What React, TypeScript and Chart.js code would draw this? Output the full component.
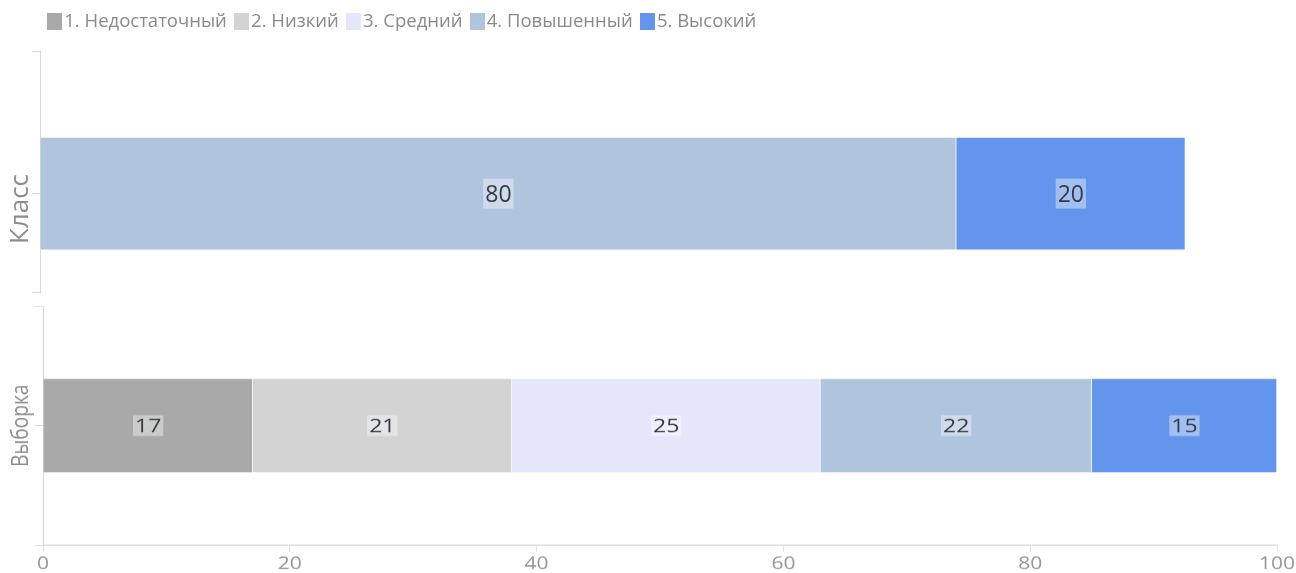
import React, { useEffect, useRef } from 'react';
import { Chart, registerables } from 'chart.js';

Chart.register(...registerables);

// ---- data ----
const categories = ['Класс', 'Выборка'];
const seriesNames = ['1. Недостаточный', '2. Низкий', '3. Средний', '4. Повышенный', '5. Высокий'];
const seriesColors = ['#A9A9A9', '#D3D3D3', '#E6E6FA', '#B0C4DE', '#6495ED'];
const classValues = [0, 0, 0, 80, 20];
const sampleValues = [17, 21, 25, 22, 15];
const xTickValues = [0, 20, 40, 60, 80, 100];

// ---- layout / style ----
const FONT = "'Open Sans', 'Noto Sans', sans-serif";
const W = 1296;
const TOP_H = 293;
const SQUASH = 0.8;
const BOTTOM_H = 356; // drawing height of lower pane (shown squashed)
const LABEL_X = 21;
const TICK_LEN = 8;

function measure(text: string, size: number) {
  const c = document.createElement('canvas').getContext('2d') as CanvasRenderingContext2D;
  c.font = `${size}px ${FONT}`;
  return c.measureText(text).width;
}

function swatch(color: string) {
  const c = document.createElement('canvas');
  c.width = 15;
  c.height = 17;
  const g = c.getContext('2d') as CanvasRenderingContext2D;
  g.fillStyle = color;
  g.fillRect(0, 0, 15, 17);
  return c;
}

function categoryAxis(label: string, size: number, min: number, max: number, axisX: number, shift: number) {
  const w = measure(label, size);
  return {
    type: 'linear',
    stacked: true,
    offset: false,
    min,
    max,
    afterBuildTicks: (s: any) => {
      s.ticks = [s.min, 0, s.max].map((value: number) => ({ value }));
    },
    afterFit: (s: any) => {
      s.width = axisX;
    },
    ticks: {
      autoSkip: false,
      callback: (v: number) => (v === 0 ? label : ''),
      minRotation: 90,
      maxRotation: 90,
      crossAlign: 'center',
      padding: axisX - TICK_LEN - LABEL_X - w / 2,
      labelOffset: shift,
      color: '#8c8c8c',
      font: { family: FONT, size, lineHeight: 0.05 },
    },
    grid: { offset: false, drawOnChartArea: false, drawTicks: true, tickLength: TICK_LEN, color: '#d8d8d8' },
    border: { display: true, color: '#d8d8d8' },
  };
}

function makeDatasets(values: number[], thickness: number) {
  return seriesNames.map((name, i) => ({
    label: name,
    data: [{ x: values[i] || null, y: 0 }],
    backgroundColor: seriesColors[i],
    borderColor: 'rgba(255,255,255,0.45)',
    borderWidth: 1,
    barThickness: thickness,
  }));
}

function valueLabels(boxH: number) {
  return {
    id: 'valueLabels',
    afterDatasetsDraw(chart: any) {
      const ctx = chart.ctx;
      ctx.save();
      ctx.font = `23px ${FONT}`;
      ctx.textAlign = 'center';
      ctx.textBaseline = 'middle';
      chart.data.datasets.forEach((ds: any, i: number) => {
        if (!chart.isDatasetVisible(i)) return;
        const meta = chart.getDatasetMeta(i);
        meta.data.forEach((el: any, j: number) => {
          const v = ds.data[j] && ds.data[j].x;
          if (!v) return;
          const { x, y, base } = el.getProps(['x', 'y', 'base'], true);
          const cx = (x + base) / 2;
          const text = String(v);
          const tw = ctx.measureText(text).width + 4;
          ctx.fillStyle = 'rgba(255,255,255,0.4)';
          ctx.fillRect(cx - tw / 2, y - boxH / 2, tw, boxH);
          ctx.fillStyle = '#353b45';
          ctx.fillText(text, cx, y + 1.5);
        });
      });
      ctx.restore();
    },
  };
}

export default function App() {
  const topRef = useRef<HTMLCanvasElement>(null);
  const bottomRef = useRef<HTMLCanvasElement>(null);

  useEffect(() => {
    const top = new Chart(topRef.current as HTMLCanvasElement, {
      type: 'bar',
      data: { datasets: makeDatasets(classValues, 113) as any },
      options: {
        indexAxis: 'y',
        animation: false,
        responsive: false,
        devicePixelRatio: 1,
        layout: { padding: { top: -2.25, left: 0, right: 19, bottom: 1 } },
        scales: {
          x: {
            type: 'linear',
            position: 'top',
            stacked: true,
            min: 0,
            max: 108,
            ticks: { display: false },
            grid: { drawOnChartArea: false, drawTicks: true, tickLength: 10.25, color: 'rgba(0,0,0,0)' },
            border: { display: false },
          },
          y: categoryAxis(categories[0], 26, -0.69, 1, 40, 15.4) as any,
        },
        plugins: {
          legend: {
            position: 'top',
            align: 'start',
            fullSize: false,
            labels: {
              usePointStyle: true,
              boxWidth: 0.5,
              boxHeight: 17,
              padding: 14.5,
              color: '#8a8a8a',
              font: { family: FONT, size: 18.5 },
              generateLabels: (chart: any) =>
                (Chart.defaults.plugins.legend.labels.generateLabels as any)(chart).map((it: any) => ({
                  ...it,
                  pointStyle: swatch(seriesColors[it.datasetIndex]),
                  lineWidth: 0,
                })),
            },
          },
          tooltip: { enabled: false },
        },
      } as any,
      plugins: [valueLabels(30)],
    });

    const bottom = new Chart(bottomRef.current as HTMLCanvasElement, {
      type: 'bar',
      data: { datasets: makeDatasets(sampleValues, 118) as any },
      options: {
        indexAxis: 'y',
        animation: false,
        responsive: false,
        devicePixelRatio: 1,
        layout: { padding: { top: 16.25, left: 0, right: 19, bottom: 0 } },
        scales: {
          x: {
            type: 'linear',
            position: 'bottom',
            stacked: true,
            min: 0,
            max: 100,
            afterBuildTicks: (s: any) => {
              s.ticks = xTickValues.map((value) => ({ value }));
            },
            afterFit: (s: any) => {
              s.paddingLeft = 0;
              s.paddingRight = 0;
            },
            ticks: {
              color: '#969696',
              padding: 6,
              maxRotation: 0,
              autoSkip: false,
              font: { family: FONT, size: 21, lineHeight: 1 },
            },
            grid: { drawOnChartArea: false, tickLength: TICK_LEN, color: '#e0e0e0' },
            border: { color: '#e0e0e0', width: 2 },
          },
          y: categoryAxis(categories[1], 24, -1, 1, 43, 0) as any,
        },
        plugins: { legend: { display: false }, tooltip: { enabled: false } },
      } as any,
      plugins: [valueLabels(26)],
    });

    return () => {
      top.destroy();
      bottom.destroy();
    };
  }, []);

  return (
    <div
      style={{
        position: 'fixed',
        left: 0,
        top: 0,
        width: W,
        height: 573,
        overflow: 'hidden',
        background: '#ffffff',
      }}
    >
      <canvas ref={topRef} width={W} height={TOP_H} style={{ display: 'block', width: W, height: TOP_H }} />
      <canvas
        ref={bottomRef}
        width={W}
        height={BOTTOM_H}
        style={{ display: 'block', width: W, height: BOTTOM_H * SQUASH }}
      />
    </div>
  );
}
